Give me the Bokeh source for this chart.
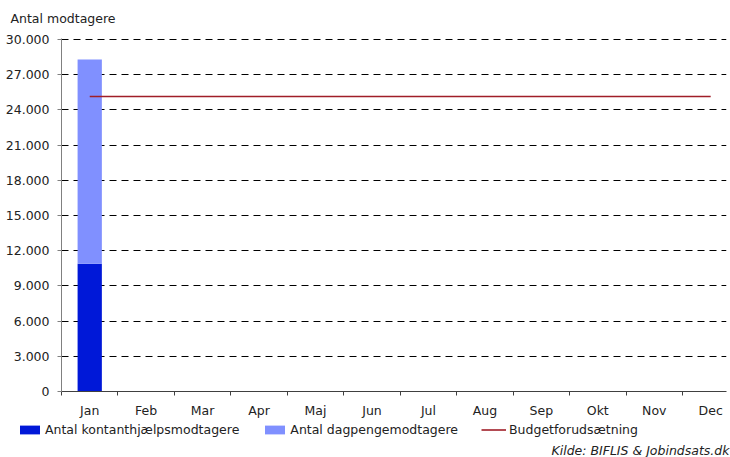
import numpy as np
from bokeh.plotting import figure
from bokeh.layouts import column
from bokeh.models import Range1d, FixedTicker, Label, Legend, LegendItem, ColumnDataSource
from bokeh.embed import file_html
from bokeh.resources import INLINE

months = ["Jan", "Feb", "Mar", "Apr", "Maj", "Jun", "Jul", "Aug", "Sep", "Okt", "Nov", "Dec"]
kontant = [10900, np.nan, np.nan, np.nan, np.nan, np.nan, np.nan, np.nan, np.nan, np.nan, np.nan, np.nan]
dagpenge = [17400, np.nan, np.nan, np.nan, np.nan, np.nan, np.nan, np.nan, np.nan, np.nan, np.nan, np.nan]
budget = [25150, 25150, 25150, 25150, 25150, 25150, 25150, 25150, 25150, 25150, 25150, 25150]
y_ticks = [0, 3000, 6000, 9000, 12000, 15000, 18000, 21000, 24000, 27000, 30000]
y_tick_labels = ["0", "3.000", "6.000", "9.000", "12.000", "15.000", "18.000",
                 "21.000", "24.000", "27.000", "30.000"]
series_names = ["Antal kontanthjælpsmodtagere", "Antal dagpengemodtagere", "Budgetforudsætning"]
y_title = "Antal modtagere"
source_note = "Kilde: BIFLIS & Jobindsats.dk"

FONT = "DejaVu Sans"
FS = "12.5px"
DARK = "#0018D8"
LIGHT = "#8090FF"
RED = "#A01E28"
TXT = "#222222"
W = 730

xc = [i + 0.5 for i in range(len(months))]
bounds = [i for i in range(len(months) + 1)]

src = ColumnDataSource(dict(x=xc, kontant=kontant, dagpenge=dagpenge, budget=budget))

# ---- top strip with the axis title
top = figure(width=W, height=28, output_backend="svg", toolbar_location=None,
             x_range=Range1d(0, W), y_range=Range1d(0, 28),
             x_axis_type=None, y_axis_type=None, min_border=0)
top.frame_align = False
top.outline_line_color = None
top.grid.visible = False
top.add_layout(Label(x=10, y=10, text=y_title, text_font=FONT, text_font_size=FS,
                     text_baseline="middle", text_color=TXT))

# ---- main chart
p = figure(width=W, height=393, output_backend="svg", toolbar_location=None,
           x_range=Range1d(0, 11.78), y_range=Range1d(0, 30090),
           min_border_left=61, min_border_right=4, min_border_top=10, min_border_bottom=30)
p.frame_align = False
p.outline_line_color = None

bars = p.vbar_stack(["kontant", "dagpenge"], x="x", width=0.43, color=[DARK, LIGHT],
                    line_color=None, source=src)
ln = p.line(x="x", y="budget", source=src, line_color=RED, line_width=1.6)

p.xgrid.visible = False
p.ygrid.ticker = FixedTicker(ticks=y_ticks)
p.ygrid.grid_line_color = "black"
p.ygrid.grid_line_dash = "7 5"
p.ygrid.grid_line_width = 1

p.yaxis.ticker = FixedTicker(ticks=y_ticks)
p.yaxis.major_label_overrides = {t: l for t, l in zip(y_ticks, y_tick_labels)}
p.yaxis.axis_line_color = "#808080"
p.yaxis.major_tick_line_color = "#808080"
p.yaxis.major_tick_out = 4
p.yaxis.major_tick_in = 0
p.yaxis.minor_tick_line_color = None
p.yaxis.major_label_standoff = 8
p.yaxis.major_label_text_font = FONT
p.yaxis.major_label_text_font_size = FS
p.yaxis.major_label_text_color = TXT

p.xaxis.ticker = FixedTicker(ticks=xc, minor_ticks=bounds)
p.xaxis.major_label_overrides = {t: m for t, m in zip(xc, months)}
p.xaxis.axis_line_color = "#404040"
p.xaxis.major_tick_line_color = None
p.xaxis.major_tick_out = 0
p.xaxis.major_tick_in = 0
p.xaxis.minor_tick_line_color = "#404040"
p.xaxis.minor_tick_out = 4
p.xaxis.minor_tick_in = 0
p.xaxis.major_label_standoff = 7
p.xaxis.major_label_text_font = FONT
p.xaxis.major_label_text_font_size = FS
p.xaxis.major_label_text_color = TXT

# ---- bottom strip with legend and source note
bot = figure(width=W, height=36, output_backend="svg", toolbar_location=None,
             x_range=Range1d(0, W), y_range=Range1d(0, 36),
             x_axis_type=None, y_axis_type=None, min_border=0)
bot.frame_align = False
bot.outline_line_color = None
bot.grid.visible = False
dummy = ColumnDataSource(dict(x=[np.nan], top=[np.nan], y=[np.nan]))
r1 = bot.vbar(x="x", top="top", width=1, color=DARK, line_color=None, source=dummy)
r2 = bot.vbar(x="x", top="top", width=1, color=LIGHT, line_color=None, source=dummy)
r3 = bot.line(x="x", y="y", line_color=RED, line_width=1.6, source=dummy)

legend = Legend(items=[LegendItem(label=series_names[0], renderers=[r1]),
                       LegendItem(label=series_names[1], renderers=[r2]),
                       LegendItem(label=series_names[2], renderers=[r3])],
                location=(17, 20), orientation="horizontal",
                padding=0, margin=0, spacing=23, label_standoff=3,
                glyph_width=25, glyph_height=11, label_height=14,
                label_text_font=FONT, label_text_font_size=FS, label_text_color=TXT,
                border_line_color=None, background_fill_alpha=0)
bot.add_layout(legend)
bot.add_layout(Label(x=729, y=7, text=source_note, text_font=FONT, text_font_size=FS,
                     text_font_style="italic", text_align="right", text_baseline="middle",
                     text_color=TXT))

layout = column(top, p, bot, spacing=0)
open("out.html", "w").write(file_html(layout, INLINE))
